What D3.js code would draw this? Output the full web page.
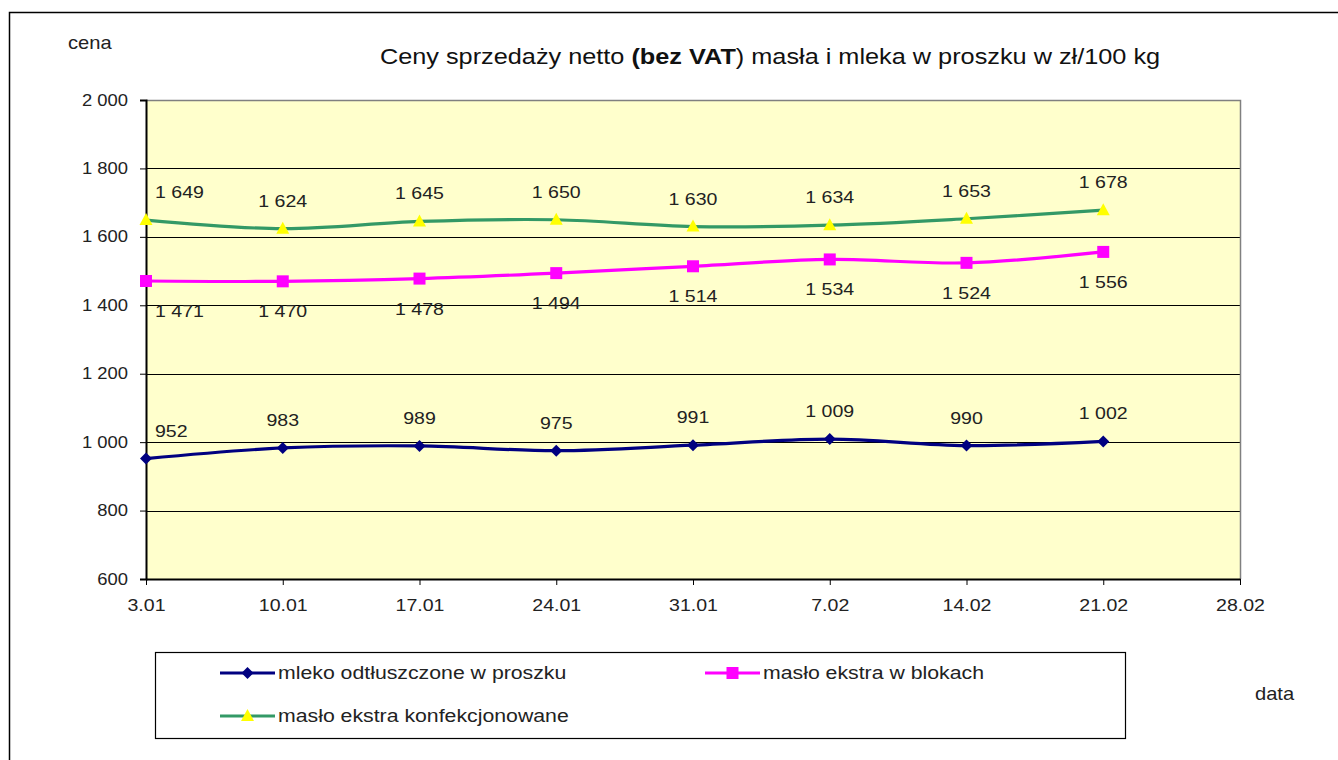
<!DOCTYPE html>
<html><head><meta charset="utf-8">
<script src="https://cdn.jsdelivr.net/npm/d3@7"></script>
<style>html,body{margin:0;padding:0;background:#fff;}svg{display:block;font-family:"Liberation Sans",Arial,sans-serif;}</style>
</head><body>
<svg id="c" width="1338" height="760"></svg>
<script>
const categories = ["3.01","10.01","17.01","24.01","31.01","7.02","14.02","21.02","28.02"];
const mleko = [952, 983, 989, 975, 991, 1009, 990, 1002];
const maslo = [1471, 1470, 1478, 1494, 1514, 1534, 1524, 1556];
const konf = [1649, 1624, 1645, 1650, 1630, 1634, 1653, 1678];
const yTicks = [600, 800, 1000, 1200, 1400, 1600, 1800, 2000];
const seriesNames = ["mleko odtłuszczone w proszku", "masło ekstra w blokach", "masło ekstra konfekcjonowane"];

const SX = 1.15; // horizontal text stretch seen in the reference
const svg = d3.select("#c");
const L = 146, R = 1240, T = 100, B = 579;
const x = d3.scalePoint().domain(categories).range([L, R]).padding(0);
const y = d3.scaleLinear().domain([600, 2000]).range([B, T]);
const fmt = v => { const s = String(v); return s.length > 3 ? s.slice(0, s.length-3) + " " + s.slice(-3) : s; };

function txt(parent, tx, ty, size, anchor){
  return parent.append("text").attr("transform",`translate(${tx},${ty}) scale(${SX},1)`)
    .attr("font-size",size).attr("text-anchor",anchor||"start").attr("fill","#222");
}

// outer border
svg.append("path").attr("d", "M9.5,770 V12.5 H1350").attr("fill","none").attr("stroke","#000").attr("stroke-width",1.5);

// plot background
svg.append("rect").attr("x",L).attr("y",T).attr("width",R-L).attr("height",B-T).attr("fill","#FFFFCC");
// gridlines
svg.append("g").selectAll("line").data(yTicks.filter(v=>v>600 && v<2000)).join("line")
  .attr("x1",L).attr("x2",R).attr("y1",d=>Math.round(y(d))+0.5).attr("y2",d=>Math.round(y(d))+0.5)
  .attr("stroke","#000").attr("stroke-width",1);
// plot border gray top/right
svg.append("path").attr("d",`M${L},${T+0.5} H${R+0.5} V${B}`).attr("fill","none").attr("stroke","#808080").attr("stroke-width",1.5);

// y axis
const yAxis = d3.axisLeft(y).tickValues(yTicks).tickSize(6).tickPadding(6).tickFormat(fmt);
const gy = svg.append("g").attr("transform",`translate(${L},0)`).call(yAxis);
gy.select(".domain").attr("stroke","#000").attr("stroke-width",2);
gy.selectAll(".tick line").attr("stroke","#000");
gy.selectAll("text").attr("font-size",16).attr("fill","#222").attr("font-family","Liberation Sans, Arial, sans-serif")
  .attr("x",-18/SX).attr("transform",`scale(${SX},1)`);

// x axis
const xAxis = d3.axisBottom(x).tickSize(6).tickPadding(7).tickSizeOuter(0);
const gx = svg.append("g").attr("transform",`translate(0,${B})`).call(xAxis);
gx.select(".domain").attr("stroke","#000").attr("stroke-width",2);
gx.selectAll(".tick line").attr("stroke","#000");
gx.selectAll("text").attr("font-size",17).attr("fill","#222").attr("font-family","Liberation Sans, Arial, sans-serif")
  .attr("y",32).attr("dy",null).attr("transform",`scale(${SX},1)`);

const line = d3.line().x((d,i)=>x(categories[i])).y(d=>y(d)).curve(d3.curveCatmullRom.alpha(0));

const colors = ["#000080","#FF00FF","#339966"];
const data = [mleko, maslo, konf];
data.forEach((s,k)=>{
  svg.append("path").attr("d",line(s)).attr("fill","none").attr("stroke",colors[k]).attr("stroke-width",3.2);
});

function marker(g, k, cx, cy){
  if(k===0){
    g.append("path").attr("d",`M${cx},${cy-6} L${cx+6},${cy} L${cx},${cy+6} L${cx-6},${cy} Z`).attr("fill","#000080");
  } else if(k===1){
    g.append("rect").attr("x",cx-6).attr("y",cy-6).attr("width",12).attr("height",12).attr("fill","#FF00FF");
  } else {
    g.append("path").attr("d",`M${cx},${cy-7} L${cx+6.5},${cy+5} L${cx-6.5},${cy+5} Z`).attr("fill","#FFFF00");
  }
}
const mg = svg.append("g");
data.forEach((s,k)=>{ s.forEach((v,i)=> marker(mg,k,x(categories[i]),y(v))); });

// data labels
const lg = svg.append("g");
data.forEach((s,k)=>{
  s.forEach((v,i)=>{
    const px = x(categories[i]), py = y(v);
    const ty = k===1 ? py+36 : py-22;
    const t = txt(lg, px, ty, 17, "middle").text(fmt(v));
    const w = t.node().getComputedTextLength()*SX;
    let cx = px;
    if (cx - w/2 < L + 8) cx = L + 9 + w/2;
    t.attr("transform",`translate(${cx},${ty}) scale(${SX},1)`);
  });
});

// title
const title = txt(svg, 770, 64, 22, "middle").attr("fill","#111");
title.append("tspan").text("Ceny sprzedaży netto ");
title.append("tspan").attr("font-weight","bold").text("(bez VAT");
title.append("tspan").text(") masła i mleka w proszku w zł/100 kg");

txt(svg, 68, 49, 17.5).text("cena");
txt(svg, 1255, 700, 17.5).text("data");

// legend
svg.append("rect").attr("x",155.5).attr("y",652.5).attr("width",970).attr("height",86).attr("fill","#fff").attr("stroke","#000").attr("stroke-width",1.2);
const legPos = [[220,673],[705,673],[220,716]];
seriesNames.forEach((n,k)=>{
  const [lx,ly] = legPos[k];
  const g = svg.append("g");
  g.append("line").attr("x1",lx).attr("x2",lx+55).attr("y1",ly).attr("y2",ly).attr("stroke",colors[k]).attr("stroke-width",3.2);
  marker(g,k,lx+27.5,ly);
  txt(g, lx+58, ly+6, 18.5).text(n);
});
</script>
</body></html>
